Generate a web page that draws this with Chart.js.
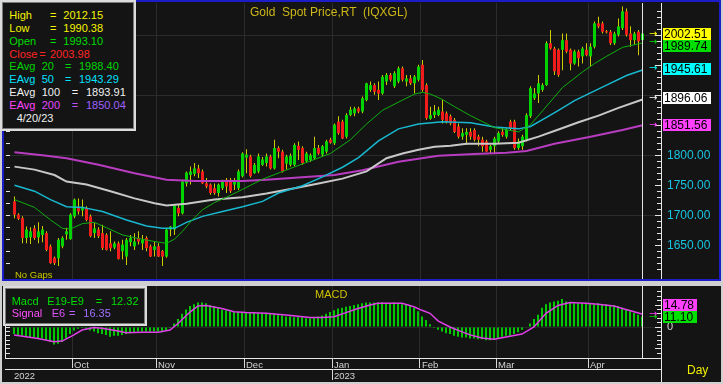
<!DOCTYPE html>
<html>
<head>
<meta charset="utf-8">
<script src="https://cdn.jsdelivr.net/npm/chart.js@4.4.1/dist/chart.umd.min.js"></script>
<style>
body { margin:0; width:723px; height:384px; background:#d0d0d0; position:relative; overflow:hidden; font-family:"Liberation Sans", Arial, sans-serif; }
.panel { position:absolute; background:#141414; box-sizing:border-box; }
#pricePanel { left:2px; top:0; width:719px; height:281px; border:2px solid #1c1cc8; }
#macdPanel { left:2px; top:286px; width:719px; height:96px; }
canvas { position:absolute; }
.box { position:absolute; box-sizing:border-box; background:#141414; border:2px solid #dcdcdc; box-shadow:inset 0 0 0 1px #7a7a7a; font-size:11px; }
.row { position:relative; }
.row span { position:absolute; top:0; white-space:pre; }
.txt { position:absolute; white-space:pre; }
#axisTail { position:absolute; left:661px; top:358px; width:1px; height:24px; background:#e8e8e8; }
</style>
</head>
<body>
<div class="panel" id="pricePanel"></div>
<div class="panel" id="macdPanel"></div>
<canvas id="priceChart" width="713" height="276" style="left:5px;top:3px"></canvas>
<canvas id="macdChart" width="713" height="96" style="left:5px;top:286px"></canvas>
<div id="axisTail"></div>

<div class="txt" style="left:250px;top:5px;font-size:12px;line-height:14px;color:#ccb818">Gold  Spot Price,RT  (IQXGL)</div>
<div class="txt" style="left:15px;top:268.6px;font-size:9.5px;line-height:12px;color:#c8c800">No Gaps</div>
<div class="txt" style="left:315px;top:287.8px;font-size:11px;line-height:13px;color:#d0c000">MACD</div>
<div class="txt" style="left:687px;top:363px;font-size:12px;line-height:14px;color:#f0f000">Day</div>

<div class="box" style="left:0;top:0;width:136px;height:131px;line-height:12.95px">
  <div style="position:absolute;left:0;top:6.7px;width:130px">
    <div class="row" style="height:12.95px;color:#f4f400"><span style="left:7.3px">High</span><span style="left:48px">=</span><span style="left:61.3px">2012.15</span></div>
    <div class="row" style="height:12.95px;color:#f4f400"><span style="left:7.3px">Low</span><span style="left:48px">=</span><span style="left:61.3px">1990.38</span></div>
    <div class="row" style="height:12.95px;color:#00dc00"><span style="left:7.3px">Open</span><span style="left:48px">=</span><span style="left:61.3px">1993.10</span></div>
    <div class="row" style="height:12.95px;color:#ff2424"><span style="left:7.3px">Close</span><span style="left:37.3px">=</span><span style="left:48px">2003.98</span></div>
    <div class="row" style="height:12.95px;color:#00d400"><span style="left:7.3px">EAvg</span><span style="left:39.7px">20</span><span style="left:63px">=</span><span style="left:77px">1988.40</span></div>
    <div class="row" style="height:12.95px;color:#00e0ff"><span style="left:7.3px">EAvg</span><span style="left:39.7px">50</span><span style="left:63px">=</span><span style="left:77px">1943.29</span></div>
    <div class="row" style="height:12.95px;color:#f0f0f0"><span style="left:7.3px">EAvg</span><span style="left:39.7px">100</span><span style="left:69.7px">=</span><span style="left:84px">1893.91</span></div>
    <div class="row" style="height:12.95px"><span style="left:7.3px;color:#ff44ff">EAvg</span><span style="left:39.7px;color:#e048ff">200</span><span style="left:69.7px;color:#c050ff">=</span><span style="left:84px;color:#a060ff">1850.04</span></div>
    <div class="row" style="height:12.95px;color:#f0f0f0"><span style="left:14.7px">4/20/23</span></div>
  </div>
</div>

<div class="box" style="left:3px;top:286px;width:144px;height:40px;line-height:12.3px">
  <div style="position:absolute;left:0;top:6.6px;width:138px">
    <div class="row" style="height:12.3px;color:#00e000"><span style="left:6.7px">Macd</span><span style="left:42.3px">E19-E9</span><span style="left:90.7px">=</span><span style="left:106px">12.32</span></div>
    <div class="row" style="height:12.3px"><span style="left:6.7px;color:#ff50ff">Signal</span><span style="left:46.7px;color:#e050ff">E6</span><span style="left:64px;color:#c060ff">=</span><span style="left:78.3px;color:#a070ff">16.35</span></div>
  </div>
</div>

<script>
// daily candles, Sep 12 2022 .. Apr 20 2023 (index = trading day)
const opens = [
  1724,1702,1696,1663,1664,1679,1664,1668,1671,1649,
  1630,1629,1649,1669,1661,1699,1715,1709,1713,1699,
  1671,1677,1671,1668,1654,1647,1654,1641,1632,1656,
  1649,1663,1654,1663,1649,1643,1649,1641,1632,1677,
  1677,1713,1704,1754,1768,1770,1779,1774,1754,1752,
  1746,1738,1746,1760,1760,1752,1746,1766,1797,1799,
  1771,1774,1785,1788,1799,1779,1813,1807,1787,1785,
  1785,1817,1813,1791,1793,1796,1813,1802,1807,1827,
  1821,1857,1857,1832,1868,1871,1879,1874,1893,1910,
  1918,1910,1904,1924,1935,1916,1924,1946,1924,1929,
  1921,1927,1952,1918,1862,1868,1868,1874,1871,1866,
  1860,1849,1832,1835,1840,1843,1832,1827,1824,1810,
  1816,1824,1840,1832,1857,1857,1813,1816,1827,1866,
  1896,1904,1910,1918,1988,1979,1977,1977,1993,1977,
  1954,1974,1966,1977,1966,1982,2021,2021,2008,2007,
  1988,2002,2013,2041,2004,1993,2007,1993.10];
const highs = [
  1732,1704,1699,1682,1681,1684,1689,1683,1674,1652,
  1632,1663,1666,1680,1704,1729,1729,1727,1716,1702,
  1688,1681,1685,1671,1674,1657,1657,1660,1663,1668,
  1671,1674,1668,1666,1652,1657,1654,1643,1679,1683,
  1718,1718,1760,1774,1782,1788,1785,1777,1763,1754,
  1754,1754,1760,1763,1763,1763,1777,1806,1811,1802,
  1788,1804,1798,1804,1802,1827,1816,1810,1802,1804,
  1821,1824,1816,1807,1804,1832,1818,1818,1827,1830,
  1854,1866,1860,1871,1882,1882,1882,1899,1922,1924,
  1921,1924,1935,1938,1938,1941,1949,1949,1935,1935,
  1935,1952,1960,1921,1882,1885,1882,1893,1874,1869,
  1863,1854,1846,1846,1846,1846,1835,1832,1827,1818,
  1832,1841,1846,1846,1860,1860,1829,1835,1871,1916,
  1913,1935,1921,1991,2010,1982,1979,2004,2004,1979,
  1977,1977,1982,1988,1988,2024,2032,2024,2010,2010,
  2007,2029,2049,2046,2016,2007,2010,2012.15];
const lows = [
  1696,1693,1654,1654,1653,1660,1654,1656,1641,1620,
  1618,1616,1646,1660,1660,1696,1702,1699,1691,1664,
  1663,1663,1643,1642,1641,1644,1627,1627,1618,1649,
  1643,1652,1643,1641,1631,1632,1631,1616,1630,1666,
  1668,1699,1702,1749,1752,1766,1763,1753,1746,1735,
  1735,1732,1743,1738,1738,1743,1743,1764,1771,1764,
  1770,1771,1783,1782,1777,1777,1796,1772,1777,1782,
  1783,1793,1785,1789,1790,1793,1802,1799,1804,1820,
  1818,1835,1828,1829,1866,1866,1871,1871,1891,1907,
  1902,1893,1902,1918,1924,1913,1921,1924,1916,1918,
  1904,1924,1907,1860,1860,1863,1866,1854,1854,1851,
  1838,1829,1827,1818,1827,1824,1816,1807,1806,1804,
  1804,1821,1832,1829,1843,1810,1810,1810,1824,1863,
  1893,1888,1907,1917,1977,1935,1932,1943,1971,1943,
  1952,1949,1954,1966,1949,1979,2013,2004,2004,1985,
  1985,1999,2010,1999,1982,1985,1968,1990.38];
const closes = [
  1702,1695,1663,1677,1674,1663,1674,1677,1643,1621,
  1621,1660,1663,1674,1702,1727,1707,1715,1693,1666,
  1679,1666,1646,1643,1646,1654,1628,1652,1660,1663,
  1657,1657,1660,1646,1632,1649,1632,1632,1677,1682,
  1717,1704,1757,1772,1774,1779,1771,1754,1749,1738,
  1738,1752,1757,1749,1741,1757,1774,1804,1802,1766,
  1785,1799,1794,1799,1779,1813,1807,1774,1799,1800,
  1818,1810,1788,1804,1801,1813,1804,1816,1824,1822,
  1852,1838,1829,1868,1877,1879,1874,1896,1921,1918,
  1907,1904,1932,1935,1927,1938,1946,1927,1929,1921,
  1932,1949,1910,1863,1868,1874,1877,1860,1857,1854,
  1840,1832,1838,1840,1832,1827,1827,1816,1807,1816,
  1829,1838,1835,1843,1846,1813,1824,1832,1868,1913,
  1904,1921,1918,1988,1979,1941,1935,1993,1974,1954,
  1974,1963,1979,1968,1982,2021,2016,2007,2006,1988,
  2004,2016,2041,2002,1993,2004,1991,2003.98];

// moving averages at these day indices
const ema20Idx = [0,5,9,12,14,17,20,23,27,31,35,38,40,42,44,47,50,53,57,62,69,79,84,88,92,97,100,102,104,107,110,114,120,126,129,132,137,142,145,148,152,157];
const ema20 = [1727,1714,1693,1679,1678,1687,1689,1680,1668,1662,1657,1654,1661,1674,1690,1710,1722,1731,1744,1761,1779,1804,1827,1853,1876,1893,1903,1906,1903,1894,1882,1867,1847,1840,1852,1875,1914,1940,1954,1966,1981,1988.4];
const ema50Idx = [0,5,9,13,17,22,28,33,37,40,43,47,52,57,62,66,72,77,82,86,91,96,101,107,114,120,126,129,133,136,140,144,148,153,157];
const ema50 = [1751,1741,1727,1715,1714,1707,1693,1683,1679,1679,1689,1699,1707,1715,1724,1738,1750,1765,1781,1797,1825,1845,1853,1857,1855,1848,1845,1849,1864,1876,1892,1905,1918,1934,1943.3];
const ema100Idx = [0,5,10,13,18,24,30,35,38,43,50,57,63,70,76,82,88,93,97,101,105,109,113,120,126,131,136,141,146,151,157];
const ema100 = [1782,1777,1768,1757,1752,1741,1729,1721,1717,1720,1727,1731,1737,1746,1754,1762,1774,1796,1804,1810,1815,1817,1820,1820,1822,1832,1844,1856,1867,1880,1893.9];
const ema200Idx = [0,7,13,21,30,38,45,57,63,71,80,87,96,101,106,115,123,128,135,144,152,157];
const ema200 = [1806,1801,1796,1785,1771,1760,1758,1758,1760,1764,1768,1776,1790,1795,1800,1803,1805,1808,1820,1832,1843,1851];

// MACD histogram per day, signal line read at these indices
const macd = [
  -8,-9,-10,-11,-12,-12,-13,-13,-15,-17,
  -20,-19,-17,-13,-8,-4,-2,-1,-2,-4,
  -5,-7,-8,-9,-11,-10,-10,-9,-8,-7,
  -6,-5,-5,-5,-5,-5,-5,-6,-4,-1,
  4,9,15,20,24,26,28,28,27,25,
  24,22,20,19,18,17,17,17,17,17,
  16,16,16,16,16,15,14,13,12,12,
  11,11,11,10,10,11,12,13,15,17,
  19,21,22,23,24,25,26,27,28,28,
  28,28,28,27,27,28,27,26,25,24,
  22,18,12,8,3,-1,-3,-5,-7,-8,
  -10,-11,-12,-12,-13,-13,-14,-14,-15,-15,
  -14,-13,-11,-10,-10,-8,-6,-3,0,4,
  9,14,22,26,28,29,30,32,29,28,
  27,27,27,27,27,26,27,26,26,25,
  25,24,22,20,18,16,14,12];
const signalIdx = [0,3,6,10,12,15,17,20,22,26,28,32,36,39,41,44,46,48,52,55,58,63,68,74,77,80,83,86,89,91,97,100,102,104,106,109,112,114,117,120,123,127,130,133,136,139,143,146,150,153,157];
const signal = [-9,-11,-13,-16.7,-16,-9,-3.4,-0.5,-1.5,-4.5,-6.5,-6,-6,-3.4,4,17,24,24.5,21,17.5,16.4,15.6,13.7,10.7,10.7,11.8,16.4,21,25,27,27,23,19,15.6,7,0,-5.5,-9,-12.5,-14,-11.5,-8,0,15.6,24.5,28,27,26,24,20,14.8];

// time axis
const monthNames = ['Oct', 'Nov', 'Dec', 'Jan', 'Feb', 'Mar', 'Apr'];
const monthStarts = [15, 36, 58, 80, 102, 121, 144];
const yearNames = ['2022', '2023'];
const yearStarts = [0, 80];

// last values flagged on the right axes
const priceMarks = [2002.51, 1989.74, 1945.61, 1896.06, 1851.56];
const priceMarkColors = ['#ffff00', '#00e000', '#00ffff', '#ffffff', '#ff40ff'];
const macdMarks = [14.78, 11.10];
const macdMarkColors = ['#ff40ff', '#00e000'];

Chart.defaults.font.family = '"Liberation Sans", Arial, sans-serif';
Chart.defaults.animation = false;

// price panel: candle centres on half pixels (1px wicks, 3px bodies)
// macd panel: shifted half a pixel so the 2px bars stay sharp
const xMin = -2.375, xMax = 161.625;
const xShift = 0.125;
const lastIndex = closes.length - 1;
const idx = closes.map((c, i) => i);
const pts = (xs, ys) => xs.map((x, k) => ({x: x, y: ys[k]}));

// keep the plot area where the picture has it: no label padding
function noPad(s) {
  s.paddingLeft = 0; s.paddingRight = 0; s.paddingTop = 0; s.paddingBottom = 0;
}

// inner tick marks, last-bar line and value flags
const axisDecor = {
  id: 'axisDecor',
  afterDraw(chart, args, o) {
    const ctx = chart.ctx, a = chart.chartArea;
    const xs = chart.scales.x, ys = chart.scales.y;
    ctx.save();
    ctx.lineWidth = 1;
    ctx.strokeStyle = '#e4e4e4';
    const lx = Math.floor(xs.getPixelForValue(lastIndex)) + 0.5;
    ctx.beginPath(); ctx.moveTo(lx, a.top); ctx.lineTo(lx, a.bottom); ctx.stroke();
    if (o.leftLine) {
      ctx.beginPath(); ctx.moveTo(a.left + 0.5, a.top); ctx.lineTo(a.left + 0.5, a.bottom); ctx.stroke();
    }
    ys.ticks.forEach(t => {
      const v = Math.round(t.value * 1000) / 1000;
      if (v % o.minorStep !== 0) return;
      const py = Math.floor(ys.getPixelForValue(v)) + 0.5;
      const len = v % o.majorStep === 0 ? 6 : 4;
      ctx.beginPath(); ctx.moveTo(a.right - len, py); ctx.lineTo(a.right, py); ctx.stroke();
      if (v % o.leftStep === 0) {
        ctx.beginPath(); ctx.moveTo(a.left + 1, py); ctx.lineTo(a.left + 5, py); ctx.stroke();
      }
    });
    const h = 12;
    const items = o.marks.map((v, k) => ({v: v, bg: o.colors[k], py: ys.getPixelForValue(v)}));
    if (o.stack === 'down') {
      items.sort((p, q) => p.py - q.py);
      let prev = -Infinity;
      items.forEach(it => { it.top = Math.max(it.py - h / 2, prev); prev = it.top + h; });
    } else {
      items.sort((p, q) => q.py - p.py);
      let prev = Infinity;
      items.forEach(it => { it.top = Math.min(it.py + h / 2, prev) - h; prev = it.top; });
    }
    ctx.textAlign = 'left';
    ctx.textBaseline = 'middle';
    items.forEach(it => {
      const top = Math.round(it.top);
      ctx.fillStyle = it.bg;
      ctx.fillRect(a.right + 2, top, o.boxWidth, h);
      ctx.fillStyle = '#000';
      ctx.font = '12px "Liberation Sans", Arial';
      ctx.fillText(it.v.toFixed(2), a.right + 3, top + h / 2 + 0.5);
      ctx.fillStyle = it.bg;
      ctx.font = '10px "DejaVu Sans"';
      ctx.fillText('\u2192', a.right - 12, it.py);
    });
    ctx.restore();
  }
};

new Chart(document.getElementById('priceChart'), {
  type: 'bar',
  data: {
    datasets: [
      { data: idx.map(i => ({x: i, y: [lows[i], highs[i]]})), backgroundColor: '#cccc00',
        barThickness: 1, grouped: false, inflateAmount: 0, order: 6 },
      { data: idx.map(i => ({x: i, y: [opens[i], closes[i]]})),
        backgroundColor: idx.map(i => closes[i] >= opens[i] ? '#00d400' : '#f01c1c'),
        barThickness: 3, minBarLength: 1, grouped: false, inflateAmount: 0, order: 5 },
      { type: 'line', data: pts(ema200Idx, ema200), borderColor: '#b83cc0', borderWidth: 2, pointRadius: 0, order: 4 },
      { type: 'line', data: pts(ema100Idx, ema100), borderColor: '#c8c8c8', borderWidth: 2, pointRadius: 0, order: 3 },
      { type: 'line', data: pts(ema50Idx, ema50), borderColor: '#18b8d0', borderWidth: 1.5, pointRadius: 0, order: 2 },
      { type: 'line', data: pts(ema20Idx, ema20), borderColor: '#10b010', borderWidth: 1, pointRadius: 0, order: 1 }
    ]
  },
  options: {
    responsive: false,
    animation: false,
    layout: { padding: 0, autoPadding: false },
    plugins: {
      legend: { display: false },
      tooltip: { enabled: false },
      axisDecor: { minorStep: 10, majorStep: 50, leftStep: 20, leftLine: false,
        marks: priceMarks, colors: priceMarkColors, stack: 'down', boxWidth: 48 }
    },
    scales: {
      x: {
        type: 'linear', min: xMin, max: xMax, offset: false,
        afterBuildTicks: s => { s.ticks = monthStarts.map(m => ({value: m - 0.5})); },
        afterFit: s => { s.height = 0; noPad(s); },
        grid: { color: '#2c2c2c', offset: false, drawTicks: false },
        border: { display: false },
        ticks: { display: false }
      },
      y: {
        position: 'right', min: 1594.5, max: 2055,
        afterFit: s => { s.width = 57; noPad(s); },
        grid: { color: c => c.tick && c.tick.value % 100 === 0 ? '#2c2c2c' : 'transparent', drawTicks: false },
        border: { color: '#e8e8e8' },
        ticks: { stepSize: 10, autoSkip: false, padding: 6, color: '#18c4e0', font: { size: 12 },
          callback: v => (v % 50 === 0 && v >= 1650 && v <= 1800) ? v.toFixed(2) : '' }
      }
    }
  },
  plugins: [axisDecor]
});

new Chart(document.getElementById('macdChart'), {
  type: 'bar',
  data: {
    datasets: [
      { data: idx.map(i => ({x: i, y: macd[i]})), backgroundColor: '#00c800',
        barThickness: 2, grouped: false, inflateAmount: 0, order: 2 },
      { type: 'line', data: pts(signalIdx, signal), borderColor: '#e040e8', borderWidth: 1.5, pointRadius: 0, order: 1 }
    ]
  },
  options: {
    responsive: false,
    animation: false,
    layout: { padding: 0, autoPadding: false },
    plugins: {
      legend: { display: false },
      tooltip: { enabled: false },
      axisDecor: { minorStep: 5, majorStep: 25, leftStep: 5, leftLine: true,
        marks: macdMarks, colors: macdMarkColors, stack: 'up', boxWidth: 34 }
    },
    scales: {
      x: {
        type: 'linear', min: xMin + xShift, max: xMax + xShift, offset: false,
        afterBuildTicks: s => { s.ticks = monthStarts.map(m => ({value: m - 0.5})); },
        afterFit: s => { s.height = 11; noPad(s); },
        grid: { color: '#2c2c2c', offset: false, tickLength: 10, tickColor: '#d8d8d8' },
        border: { color: '#e8e8e8' },
        ticks: { callback: (v, i) => monthNames[i], color: '#d4d4d4', font: { size: 9.5 },
          align: 'start', labelOffset: 2, padding: -8, autoSkip: false, maxRotation: 0 }
      },
      x2: {
        type: 'linear', min: xMin + xShift, max: xMax + xShift, offset: false,
        position: 'bottom', weight: 1,
        afterBuildTicks: s => { s.ticks = yearStarts.map(m => ({value: m - 0.5})); },
        afterFit: s => { s.height = 13; noPad(s); },
        grid: { drawOnChartArea: false, offset: false, tickLength: 11,
          tickColor: c => c.index === 0 ? 'transparent' : '#d8d8d8' },
        border: { color: '#e8e8e8' },
        ticks: { callback: (v, i) => yearNames[i], color: '#d4d4d4', font: { size: 9.5 },
          align: 'start', labelOffset: 2, padding: -9, autoSkip: false, maxRotation: 0 }
      },
      y: {
        position: 'right', min: -35.3, max: 46.7,
        afterFit: s => { s.width = 57; noPad(s); },
        grid: { color: c => c.tick && c.tick.value === 0 ? '#262626' : 'transparent', drawTicks: false },
        border: { color: '#e8e8e8' },
        ticks: { stepSize: 5, autoSkip: false, padding: 6, color: '#d8d8d8', font: { size: 11 },
          callback: v => v === 0 ? '0' : '' }
      }
    }
  },
  plugins: [axisDecor]
});
</script>
</body>
</html>
